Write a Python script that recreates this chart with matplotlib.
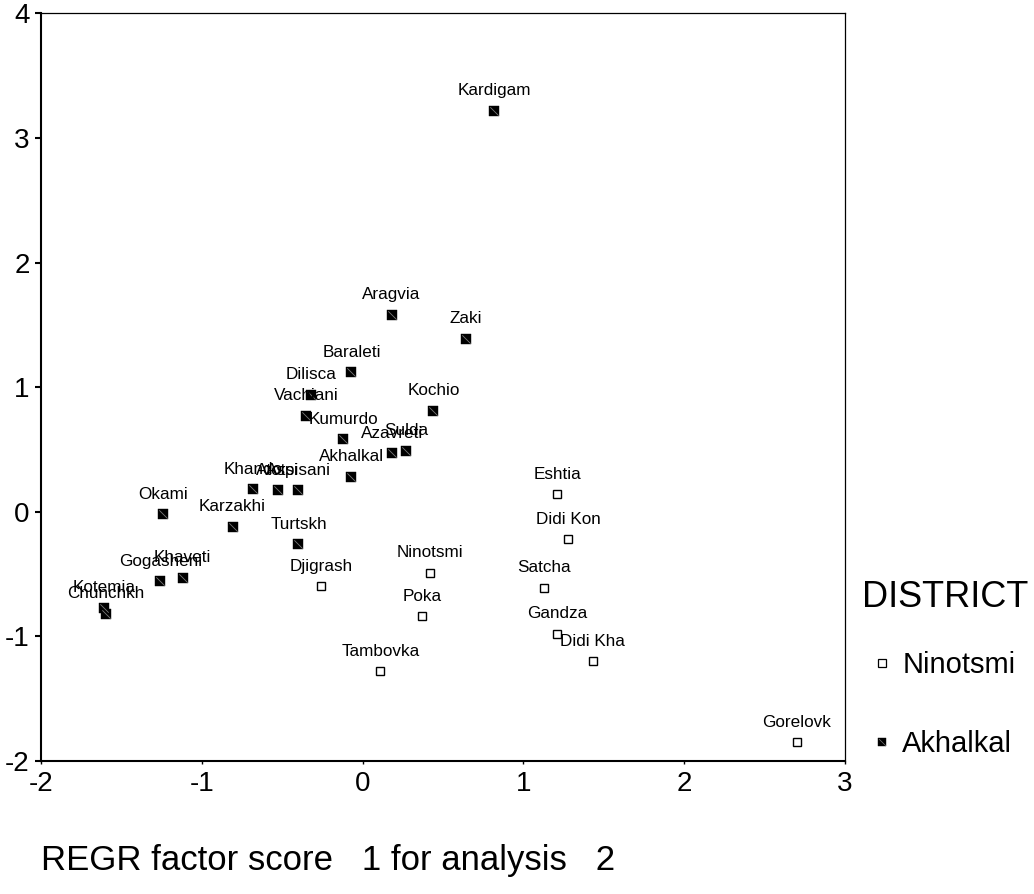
import matplotlib.pyplot as plt
from matplotlib.lines import Line2D
from matplotlib.path import Path

plt.rcParams['font.family'] = ['Liberation Sans', 'DejaVu Sans']
plt.rcParams['axes.unicode_minus'] = False

# district Ninotsmi (open squares)
nin_names = ["Djigrash", "Ninotsmi", "Poka", "Tambovka", "Eshtia", "Didi Kon",
             "Satcha", "Gandza", "Didi Kha", "Gorelovk"]
nin_x = [-0.26, 0.42, 0.37, 0.11, 1.21, 1.28, 1.13, 1.21, 1.43, 2.70]
nin_y = [-0.60, -0.49, -0.84, -1.28, 0.14, -0.22, -0.61, -0.98, -1.20, -1.85]

# district Akhalkal (filled squares)
akh_names = ["Kardigam", "Aragvia", "Zaki", "Baraleti", "Dilisca", "Vachiani",
             "Kochio", "Kumurdo", "Azavreti", "Sulda", "Akhalkal", "Khando",
             "Atotsi", "Aspisani", "Karzakhi", "Turtskh", "Okami", "Gogasheni",
             "Khaveti", "Kotemia", "Chunchkh"]
akh_x = [0.82, 0.18, 0.64, -0.07, -0.32, -0.35, 0.44, -0.12, 0.18, 0.27, -0.07,
         -0.68, -0.53, -0.40, -0.81, -0.40, -1.24, -1.26, -1.12, -1.61, -1.60]
akh_y = [3.22, 1.58, 1.39, 1.12, 0.94, 0.77, 0.81, 0.58, 0.47, 0.49, 0.28,
         0.18, 0.17, 0.17, -0.12, -0.26, -0.02, -0.56, -0.53, -0.77, -0.82]

district_labels = ["Ninotsmi", "Akhalkal"]

# diagonal line drawn on top of the black squares (SPSS look)
SLASH = Path([(-0.5, 0.5), (0.5, -0.5)], [Path.MOVETO, Path.LINETO])

fig = plt.figure(figsize=(10.34, 8.94), dpi=100)
ax = fig.add_axes([0.040, 0.149, 0.777, 0.836])

ax.plot(nin_x, nin_y, ls="none", marker="s", ms=6.2, mfc="white",
        mec="black", mew=1.0)
ax.plot(akh_x, akh_y, ls="none", marker="s", ms=7.0, mfc="black",
        mec="black", mew=0.3)
ax.plot(akh_x, akh_y, ls="none", marker=SLASH, ms=6.0, mec="#7a7a7a", mew=0.6)

for name, x, y in zip(nin_names + akh_names, nin_x + akh_x, nin_y + akh_y):
    ax.annotate(name, (x, y), xytext=(0, 14.4), textcoords="offset points",
                ha="center", va="center", fontsize=12.3)

ax.set_xlim(-2, 3)
ax.set_ylim(-2, 4)
ax.set_xticks(range(-2, 4))
ax.set_yticks(range(-2, 5))
ax.tick_params(axis="y", direction="out", length=4.3, width=1.5, pad=4,
               labelsize=20)
ax.tick_params(axis="x", direction="out", length=2, width=1.0, pad=5,
               labelsize=20)

for side in ["left", "bottom"]:
    ax.spines[side].set_linewidth(1.5)
for side in ["top", "right"]:
    ax.spines[side].set_linewidth(0.9)

ax.set_xlabel("REGR factor score   1 for analysis   2", loc="left",
              fontsize=25, labelpad=34)

# legend: title as its own text, entries below
fig.text(0.834, 0.332, "DISTRICT", fontsize=26, ha="left", va="center")
h_nin = Line2D([], [], ls="none", marker="s", ms=5.2, mfc="white",
               mec="black", mew=0.9)
h_akh = Line2D([], [], ls="none", marker="s", ms=5.8, mfc="black",
               mec="black", mew=0.3)
h_akh2 = Line2D([], [], ls="none", marker=SLASH, ms=5.0, mec="#7a7a7a", mew=0.5)
fig.legend([h_nin, (h_akh, h_akh2)], district_labels,
           loc="upper left", bbox_to_anchor=(0.836, 0.272), frameon=False,
           fontsize=21, handlelength=1.2, handletextpad=0.1,
           labelspacing=1.75, borderpad=0, borderaxespad=0)

fig.savefig("out.png", dpi=100)
